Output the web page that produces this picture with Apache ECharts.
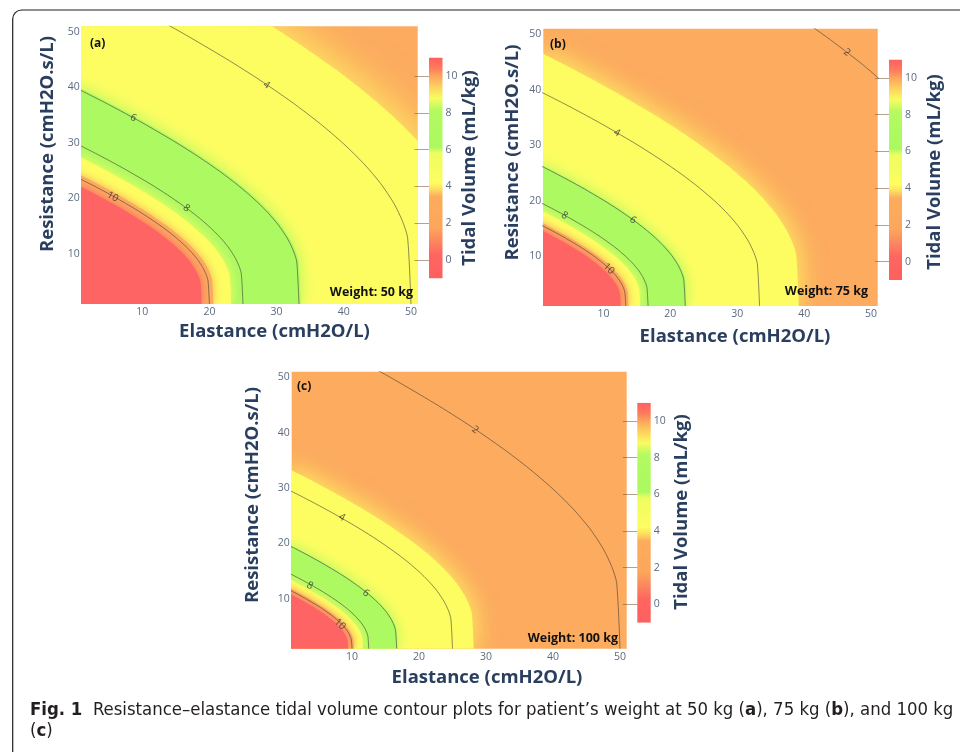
<!DOCTYPE html>
<html><head><meta charset="utf-8">
<script src="https://cdn.jsdelivr.net/npm/echarts@6/dist/echarts.min.js"></script>
<style>html,body{margin:0;padding:0;background:#fff}#c{width:960px;height:752px}</style>
</head><body><div id="c"></div>
<script>
// ---------- axis ranges & ticks ----------
const xRange = [1, 51];
const yRange = [1, 51];
const axisTickValues = [10, 20, 30, 40, 50];
const cbRange = [-1, 11];
const cbTickValues = [0, 2, 4, 6, 8, 10];
const weights = ['Weight: 50 kg', 'Weight: 75 kg', 'Weight: 100 kg'];
const panelTags = ['(a)', '(b)', '(c)'];

// ---------- panel (a) 50 kg : contour lines [E, R] ----------
const a_tv4 = [[0,60],[7.5,55.38],[15,50.47],[22.5,45.16],[27.5,41.33],[32.5,37.15],[36.5,33.45],[40,29.82],[43,26.24],[45.5,22.67],[47.5,19.03],[48.75,15.86],[49.5,12.9],[50,1]];
const a_tv6 = [[0,40],[5,36.92],[10,33.64],[15,30.11],[18.33,27.55],[21.67,24.77],[24.33,22.3],[26.67,19.88],[28.67,17.5],[30.33,15.12],[31.67,12.68],[32.5,10.57],[33,8.6],[33.33,1]];
const a_tv8 = [[0,30],[3.75,27.69],[7.5,25.23],[11.25,22.58],[13.75,20.66],[16.25,18.57],[18.25,16.73],[20,14.91],[21.5,13.12],[22.75,11.34],[23.75,9.51],[24.38,7.93],[24.75,6.45],[25,1]];
const a_tv10 = [[0,24],[3,22.15],[6,20.19],[9,18.07],[11,16.53],[13,14.86],[14.6,13.38],[16,11.93],[17.2,10.5],[18.2,9.07],[19,7.61],[19.5,6.34],[19.8,5.16],[20,1]];
// colour-transition boundaries read from the shading
const a_edgeOuter = [[0,70.59],[8.82,65.15],[17.65,59.37],[26.47,53.13],[32.35,48.62],[38.24,43.7],[42.94,39.36],[47.06,35.09],[50.59,30.88],[53.53,26.68]];
const a_edgeGreen = [[0,40.34],[5.04,37.23],[10.08,33.93],[15.13,30.36],[18.49,27.78],[21.85,24.97],[24.54,22.49],[26.89,20.05],[28.91,17.64],[30.59,15.24],[31.93,12.79],[32.77,10.66],[33.28,8.67],[33.61,1]];
const a_edgeInnerY = [[0,27.91],[3.49,25.76],[6.98,23.47],[10.47,21.01],[12.79,19.22],[15.12,17.28],[16.98,15.56],[18.6,13.87],[20,12.21],[21.16,10.55],[22.09,8.85],[22.67,7.38],[23.02,6],[23.26,1]];
const a_edgeInnerO = [[0,24.74],[3.09,22.84],[6.19,20.81],[9.28,18.62],[11.34,17.04],[13.4,15.32],[15.05,13.8],[16.5,12.3],[17.73,10.82],[18.76,9.35],[19.59,7.85],[20.1,6.54],[20.41,5.32],[20.62,1]];
const a_edgeRed = [[0,22.64],[2.83,20.9],[5.66,19.04],[8.49,17.04],[10.38,15.6],[12.26,14.02],[13.77,12.62],[15.09,11.25],[16.23,9.9],[17.17,8.56],[17.92,7.18],[18.4,5.98],[18.68,4.87],[18.87,1]];
const a_labels = [[28.5,40.4,'4'],[8.7,34.5,'6'],[16.6,18.25,'8'],[5.6,20.3,'10']];

// ---------- panel (b) 75 kg ----------
const b_tv2 = [[0,80],[10,73.84],[20,67.29],[30,60.22],[36.67,55.1],[43.33,49.53],[48.67,44.6],[53.33,39.77]];
const b_tv4 = [[0,40],[5,36.92],[10,33.64],[15,30.11],[18.33,27.55],[21.67,24.77],[24.33,22.3],[26.67,19.88],[28.67,17.5],[30.33,15.12],[31.67,12.68],[32.5,10.57],[33,8.6],[33.33,1]];
const b_tv6 = [[0,26.67],[3.33,24.61],[6.67,22.43],[10,20.07],[12.22,18.37],[14.44,16.51],[16.22,14.87],[17.78,13.26],[19.11,11.66],[20.22,10.08],[21.11,8.46],[21.67,7.05],[22,5.73],[22.22,1]];
const b_tv8 = [[0,20],[2.5,18.46],[5,16.82],[7.5,15.05],[9.17,13.78],[10.83,12.38],[12.17,11.15],[13.33,9.94],[14.33,8.75],[15.17,7.56],[15.83,6.34],[16.25,5.29],[16.5,4.3],[16.67,1]];
const b_tv10 = [[0,16],[2,14.77],[4,13.46],[6,12.04],[7.33,11.02],[8.67,9.91],[9.73,8.92],[10.67,7.95],[11.47,7],[12.13,6.05],[12.67,5.07],[13,4.23],[13.2,3.44],[13.33,1]];
const b_edgeOuter = [[0,47.06],[5.88,43.43],[11.76,39.58],[17.65,35.42],[21.57,32.41],[25.49,29.14],[28.63,26.24],[31.37,23.39],[33.73,20.58],[35.69,17.78],[37.25,14.92],[38.24,12.44],[38.82,10.12],[39.22,1]];
const b_edgeGreen = [[0,26.89],[3.36,24.82],[6.72,22.62],[10.08,20.24],[12.33,18.52],[14.57,16.65],[16.36,14.99],[17.93,13.37],[19.27,11.76],[20.39,10.16],[21.29,8.53],[21.85,7.11],[22.19,5.78],[22.41,1]];
const b_edgeInnerY = [[0,18.6],[2.33,17.17],[4.65,15.65],[6.98,14],[8.53,12.81],[10.08,11.52],[11.32,10.37],[12.4,9.25],[13.33,8.14],[14.11,7.03],[14.73,5.9],[15.12,4.92],[15.35,4],[15.5,1]];
const b_edgeInnerO = [[0,16.5],[2.06,15.22],[4.12,13.87],[6.19,12.42],[7.56,11.36],[8.93,10.21],[10.03,9.2],[11,8.2],[11.82,7.22],[12.51,6.23],[13.06,5.23],[13.4,4.36],[13.61,3.55],[13.75,1]];
const b_edgeRed = [[0,15.09],[1.89,13.93],[3.77,12.7],[5.66,11.36],[6.92,10.4],[8.18,9.35],[9.18,8.42],[10.06,7.5],[10.82,6.6],[11.45,5.7],[11.95,4.79],[12.26,3.99],[12.45,3.25],[12.58,1]];
const b_labels = [[46.4,46.7,'2'],[12,32.2,'4'],[14.4,16.5,'6'],[4.2,17.3,'8'],[10.8,7.7,'10']];

// ---------- panel (c) 100 kg ----------
const c_tv2 = [[0,60],[7.5,55.38],[15,50.47],[22.5,45.16],[27.5,41.33],[32.5,37.15],[36.5,33.45],[40,29.82],[43,26.24],[45.5,22.67],[47.5,19.03],[48.75,15.86],[49.5,12.9],[50,1]];
const c_tv4 = [[0,30],[3.75,27.69],[7.5,25.23],[11.25,22.58],[13.75,20.66],[16.25,18.57],[18.25,16.73],[20,14.91],[21.5,13.12],[22.75,11.34],[23.75,9.51],[24.38,7.93],[24.75,6.45],[25,1]];
const c_tv6 = [[0,20],[2.5,18.46],[5,16.82],[7.5,15.05],[9.17,13.78],[10.83,12.38],[12.17,11.15],[13.33,9.94],[14.33,8.75],[15.17,7.56],[15.83,6.34],[16.25,5.29],[16.5,4.3],[16.67,1]];
const c_tv8 = [[0,15],[1.88,13.84],[3.75,12.62],[5.63,11.29],[6.88,10.33],[8.13,9.29],[9.13,8.36],[10,7.46],[10.75,6.56],[11.38,5.67],[11.88,4.76],[12.19,3.96],[12.38,3.22],[12.5,1]];
const c_tv10 = [[0,12],[1.5,11.08],[3,10.09],[4.5,9.03],[5.5,8.27],[6.5,7.43],[7.3,6.69],[8,5.96],[8.6,5.25],[9.1,4.53],[9.5,3.81],[9.75,3.17],[9.9,2.58],[10,1]];
const c_edgeOuter = [[0,33.8],[4.23,31.2],[8.45,28.43],[12.68,25.44],[15.49,23.28],[18.31,20.93],[20.56,18.85],[22.54,16.8],[24.23,14.79],[25.63,12.77],[26.76,10.72],[27.47,8.93],[27.89,7.27],[28.17,1]];
const c_edgeGreen = [[0,20.17],[2.52,18.61],[5.04,16.96],[7.56,15.18],[9.24,13.89],[10.92,12.49],[12.27,11.24],[13.45,10.03],[14.45,8.82],[15.29,7.62],[15.97,6.4],[16.39,5.33],[16.64,4.34],[16.81,1]];
const c_edgeInnerY = [[0,13.95],[1.74,12.88],[3.49,11.74],[5.23,10.5],[6.4,9.61],[7.56,8.64],[8.49,7.78],[9.3,6.94],[10,6.1],[10.58,5.27],[11.05,4.42],[11.34,3.69],[11.51,3],[11.63,1]];
const c_edgeInnerO = [[0,12.37],[1.55,11.42],[3.09,10.41],[4.64,9.31],[5.67,8.52],[6.7,7.66],[7.53,6.9],[8.25,6.15],[8.87,5.41],[9.38,4.68],[9.79,3.92],[10.05,3.27],[10.21,2.66],[10.31,1]];
const c_edgeRed = [[0,11.32],[1.42,10.45],[2.83,9.52],[4.25,8.52],[5.19,7.8],[6.13,7.01],[6.89,6.31],[7.55,5.63],[8.11,4.95],[8.58,4.28],[8.96,3.59],[9.2,2.99],[9.34,2.43],[9.43,1]];
const c_labels = [[28.4,40.5,'2'],[8.5,24.7,'4'],[12.1,11.0,'6'],[3.7,12.4,'8'],[8.2,5.4,'10']];

// ---------- styling ----------
const ORANGE = '#fcab5f', YELLOW = '#fdfd62', GREEN = '#adf962', RED = '#fe6464';
const bandColors = [YELLOW, GREEN, YELLOW, ORANGE, RED];
const colorscale = [[11,'#ff5e5e'],[10.4,'#fe7c5e'],[10,'#fca55d'],[9.4,'#fdd25e'],[8.8,'#f8fc60'],[8.15,'#b4fa60'],[6.15,'#abf960'],[5.8,'#eefd60'],[4.2,'#fdfd60'],[3.9,'#fde45f'],[3.45,'#fcac5d'],[1.8,'#fca75c'],[1.1,'#fd8a5e'],[0.3,'#fe6660'],[-1,'#fe5f5f']];
const TITLE = '#2a3f5f', TICK = '#5c6b80';
const FONT = 'Open Sans';

const panels = [
  {edges:[a_edgeOuter,a_edgeGreen,a_edgeInnerY,a_edgeInnerO,a_edgeRed], lines:[a_tv4,a_tv6,a_tv8,a_tv10], labels:a_labels, rot:[-35,-28,-37,-29],
   blur:[44, 16, 12, 10, 10],
   grid:{left:81.7, top:26.3, width:336, height:277.7}, cb:{left:429, top:57.6, width:13.5, height:220.8},
   xt:[274.5,332], yt:[48,144], ct:[470,168], tag:[90,44], wt:[413,292.5]},
  {edges:[b_edgeOuter,b_edgeGreen,b_edgeInnerY,b_edgeInnerO,b_edgeRed], lines:[b_tv2,b_tv4,b_tv6,b_tv8,b_tv10], labels:b_labels, rot:[-37,-30,-36,-28,-45],
   blur:[28, 14, 10, 8, 8],
   grid:{left:543.3, top:28.7, width:334.4, height:277.3}, cb:{left:889, top:59.4, width:13, height:220.7},
   xt:[735,337], yt:[513,152.5], ct:[935,172], tag:[550,44.5], wt:[868,291.5]},
  {edges:[c_edgeOuter,c_edgeGreen,c_edgeInnerY,c_edgeInnerO,c_edgeRed], lines:[c_tv2,c_tv4,c_tv6,c_tv8,c_tv10], labels:c_labels, rot:[-35,-30,-37,-29,-44],
   blur:[26, 14, 9, 8, 8],
   grid:{left:291.7, top:371.7, width:335, height:277}, cb:{left:637.3, top:402.7, width:13.4, height:220},
   xt:[487,678], yt:[253,495], ct:[681.7,512], tag:[297,386.5], wt:[618,638.5]}
];

const grid = [], xAxis = [], yAxis = [], series = [], graphic = [];
const cbGradient = new echarts.graphic.LinearGradient(0, 0, 0, 1,
  colorscale.map(s => ({offset: (cbRange[1] - s[0]) / (cbRange[1] - cbRange[0]), color: s[1]})));

panels.forEach((p, i) => {
  const gi = grid.length;
  grid.push(Object.assign({show:true, backgroundColor:ORANGE, borderWidth:0}, p.grid));
  xAxis.push({gridIndex:gi, type:'value', min:xRange[0], max:xRange[1],
    axisLine:{show:false}, axisTick:{show:false}, splitLine:{show:false},
    axisLabel:{customValues:axisTickValues, color:TICK, fontSize:10.5, fontFamily:FONT, margin:3}});
  yAxis.push({gridIndex:gi, type:'value', min:yRange[0], max:yRange[1],
    axisLine:{show:false}, axisTick:{show:false}, splitLine:{show:false},
    axisLabel:{customValues:axisTickValues, color:TICK, fontSize:10.5, fontFamily:FONT, margin:2}});
  p.edges.forEach((d, k) => series.push({type:'line', z:2, xAxisIndex:gi, yAxisIndex:gi, data:d, smooth:0.25,
    symbol:'none', silent:true, lineStyle:{width:0, opacity:0},
    areaStyle:{color:bandColors[k], opacity:1, origin:'start', shadowBlur:p.blur[k], shadowColor:bandColors[k]}}));
  p.lines.forEach(d => series.push({type:'line', z:3, xAxisIndex:gi, yAxisIndex:gi, data:d, smooth:0.25,
    symbol:'none', silent:true, lineStyle:{width:1, color:'rgba(65,65,55,0.6)'}}));
  series.push({type:'scatter', z:6, xAxisIndex:gi, yAxisIndex:gi, symbolSize:0, silent:true,
    data:p.labels.map((l, k) => ({value:[l[0], l[1]], label:{formatter:l[2], rotate:p.rot[k]}})),
    label:{show:true, position:'inside', fontSize:10, fontFamily:FONT, color:'#333'}});

  // colour bar
  const ci = grid.length;
  grid.push(Object.assign({show:false}, p.cb));
  xAxis.push({gridIndex:ci, type:'value', min:0, max:1, show:false});
  yAxis.push({gridIndex:ci, type:'value', min:cbRange[0], max:cbRange[1], position:'right', z:5,
    axisLine:{show:false}, splitLine:{show:false},
    axisTick:{show:true, customValues:cbTickValues, inside:true, length:p.cb.width + 1, lineStyle:{color:'rgba(120,85,50,0.55)', width:1}},
    axisLabel:{customValues:cbTickValues, color:TICK, fontSize:10.5, fontFamily:FONT, margin:3}});
  series.push({type:'line', z:2, xAxisIndex:ci, yAxisIndex:ci, data:[[0, cbRange[1]], [1, cbRange[1]]], symbol:'none', silent:true,
    lineStyle:{width:0, opacity:0}, areaStyle:{color:cbGradient, opacity:1, origin:'start'}});

  // titles & annotations
  const tStyle = {fontFamily:FONT, fontWeight:'bold', fontSize:18.5, fill:TITLE, align:'center', verticalAlign:'middle'};
  graphic.push({type:'text', x:p.xt[0], y:p.xt[1], z:50, style:Object.assign({text:'Elastance (cmH2O/L)'}, tStyle)});
  graphic.push({type:'text', x:p.yt[0], y:p.yt[1], rotation:Math.PI/2, z:50, style:Object.assign({text:'Resistance (cmH2O.s/L)'}, tStyle)});
  graphic.push({type:'text', x:p.ct[0], y:p.ct[1], rotation:Math.PI/2, z:50, style:Object.assign({text:'Tidal Volume (mL/kg)'}, tStyle)});
  graphic.push({type:'text', x:p.tag[0], y:p.tag[1], z:50, style:{text:panelTags[i], fontFamily:FONT, fontWeight:'bold', fontSize:12, fill:'#111', align:'left', verticalAlign:'middle'}});
  graphic.push({type:'text', x:p.wt[0], y:p.wt[1], z:50, style:{text:weights[i], fontFamily:FONT, fontWeight:'bold', fontSize:12.5, fill:'#111', align:'right', verticalAlign:'middle'}});
});

// frame and caption
graphic.push({type:'rect', z:60, shape:{x:12.7, y:10, width:1000, height:800, r:9}, style:{fill:'none', stroke:'#1e1e1e', lineWidth:1.2}});
const capFont = '"Liberation Sans Narrow","DejaVu Sans Condensed",sans-serif';
graphic.push({type:'text', x:30, y:710, z:60, style:{text:'{b|Fig. 1}  Resistance–elastance tidal volume contour plots for patient’s weight at 50 kg ({b|a}), 75 kg ({b|b}), and 100 kg',
  fontFamily:capFont, fontSize:18.4, fill:'#231f20', verticalAlign:'middle', rich:{b:{fontFamily:capFont, fontSize:18.4, fontWeight:'bold', fill:'#231f20'}}}});
graphic.push({type:'text', x:30, y:731, z:60, style:{text:'({b|c})', fontFamily:capFont, fontSize:18.4, fill:'#231f20', verticalAlign:'middle',
  rich:{b:{fontFamily:capFont, fontSize:18.4, fontWeight:'bold', fill:'#231f20'}}}});

const chart = echarts.init(document.getElementById('c'), null, {renderer:'canvas'});
chart.setOption({animation:false, backgroundColor:'#fff', grid, xAxis, yAxis, series, graphic});
</script></body></html>
